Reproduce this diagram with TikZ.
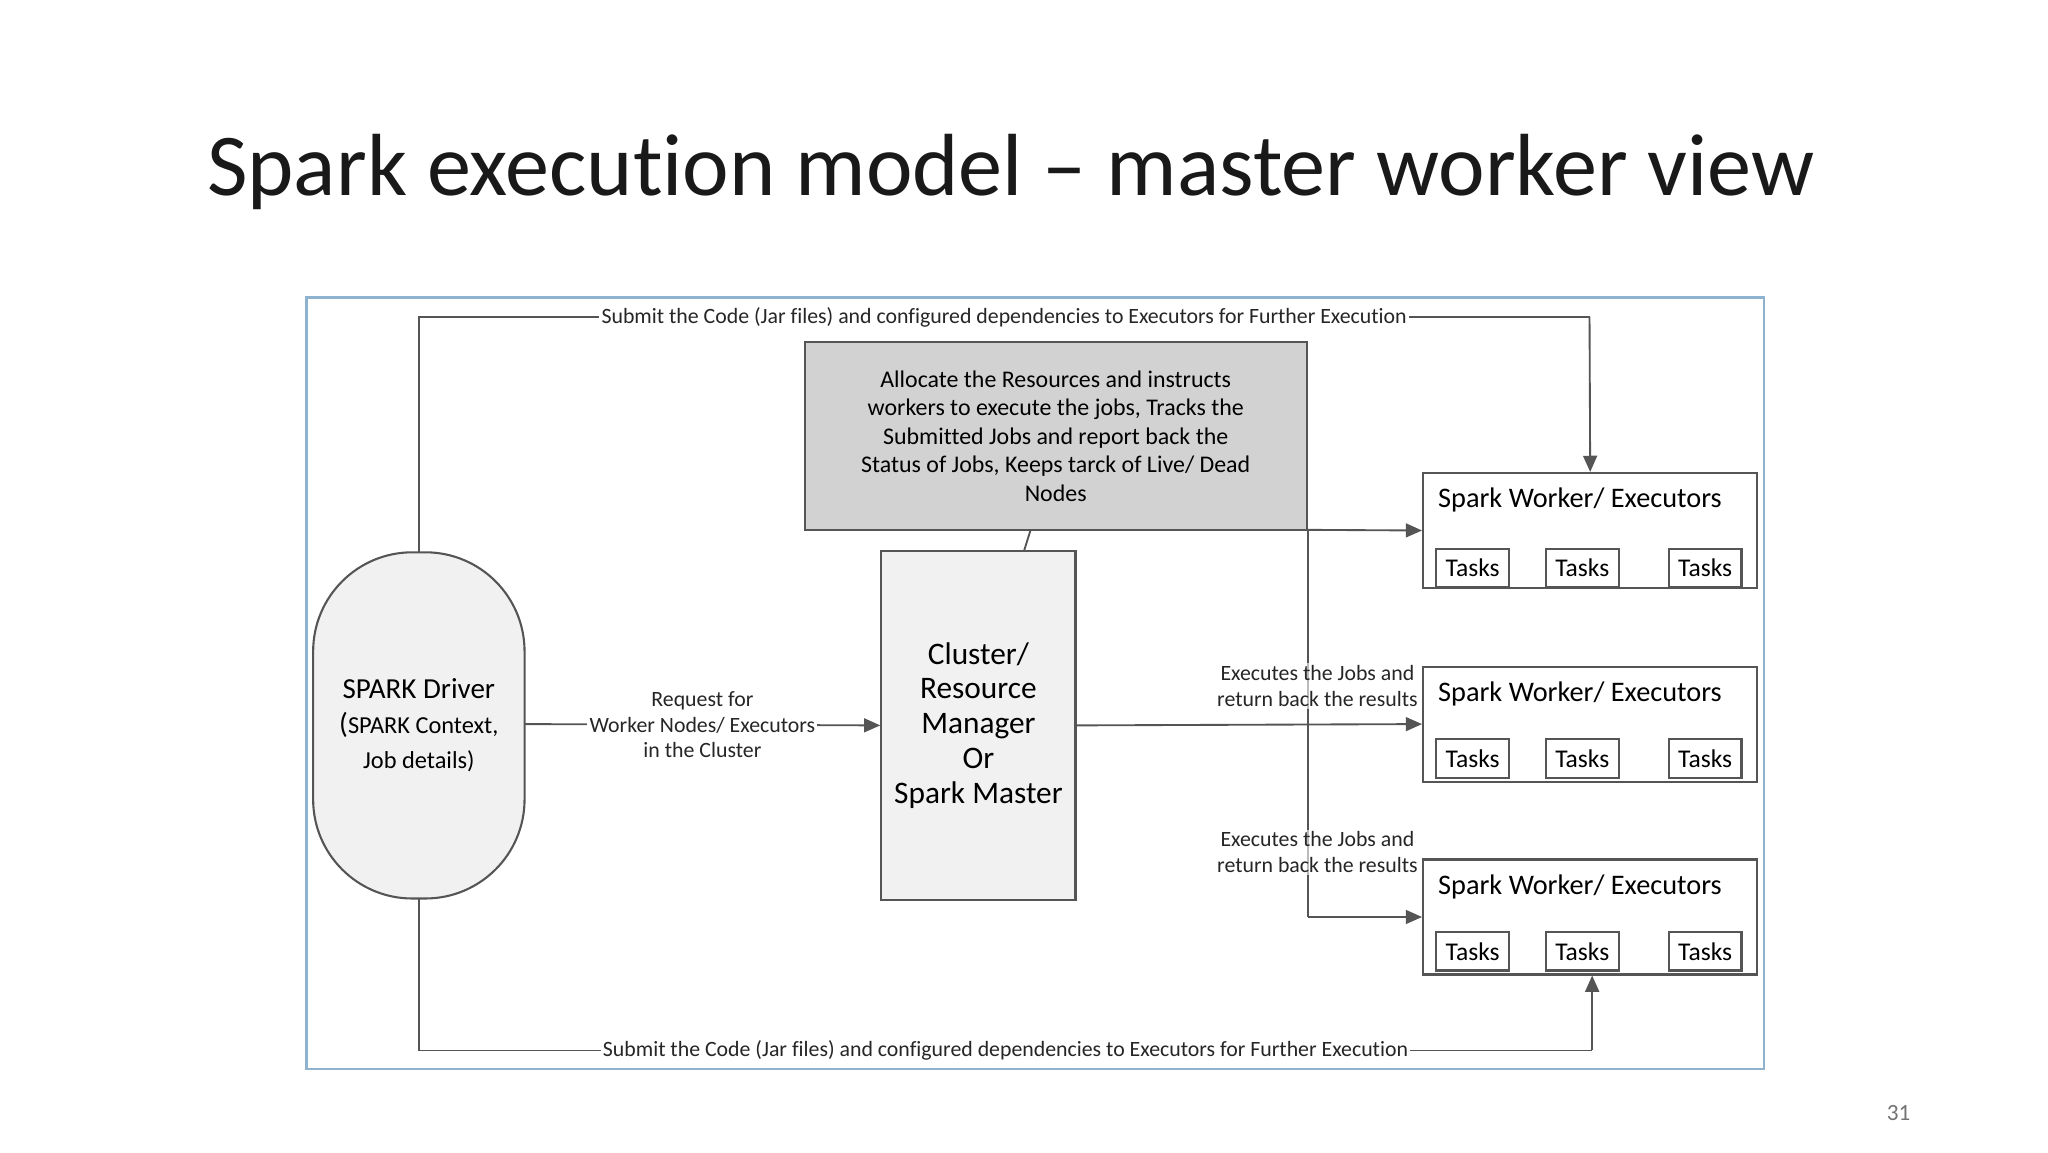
\documentclass[tikz,border=0pt]{standalone}
\usepackage{fontspec}
\setmainfont{Carlito}[Ligatures={NoCommon}]
\usetikzlibrary{arrows.meta}
\definecolor{frameblue}{HTML}{8FB3CF}
\definecolor{boxgray}{HTML}{D2D2D2}
\definecolor{lightbox}{HTML}{F1F1F1}
\definecolor{edgegray}{HTML}{555555}
\tikzset{
  box/.style={draw=edgegray, line width=0.9pt},
  lbl/.style={fill=white, inner sep=1pt, font=\fontsize{9.4}{11}\selectfont, text=black!85},
  conn/.style={draw=edgegray, line width=0.8pt},
  arr/.style={conn, -{Triangle[length=7pt,width=6pt]}},
  taskbox/.style={box, fill=white, minimum width=1.1cm, minimum height=0.58cm, inner sep=0pt, font=\fontsize{11}{12}\selectfont},
  worker/.style={box, fill=white, minimum width=5.06cm, minimum height=1.74cm},
}
\begin{document}
\begin{tikzpicture}[x=0.02cm,y=-0.02cm]
\useasboundingbox (0,0) rectangle (1550,872);
\node[font=\fontsize{38}{44}\selectfont, anchor=center, text=black!90] (title) at (765,130) {Spark execution model – master worker view};
\node[font=\fontsize{10}{12}\selectfont, text=black!55] (page) at (1437,842) {31};
\draw[frameblue, line width=1.2pt] (232,225) rectangle (1335,809);
% driver
\draw[box, fill=lightbox, rounded corners=1.5cm] (237,418) rectangle (397,680);
\node[align=center, font=\fontsize{12.5}{15}\selectfont] (driver) at (317,549) {SPARK Driver\\(\fontsize{10.5}{15}\selectfont SPARK Context,\\\fontsize{10.5}{15}\selectfont Job details)};
\coordinate (dtop) at (317,418);
\coordinate (dbot) at (317,680);
\coordinate (dright) at (397,548);
% gray box
\node[box, fill=boxgray, minimum width=7.6cm, minimum height=2.84cm, align=center, font=\fontsize{10.3}{12.3}\selectfont] (alloc) at (799,330) {Allocate the Resources and instructs\\workers to execute the jobs, Tracks the\\Submitted Jobs and report back the\\Status of Jobs, Keeps tarck of Live/ Dead\\Nodes};
% cluster
\node[box, fill=lightbox, minimum width=2.94cm, minimum height=5.28cm, align=center, font=\fontsize{13.5}{15}\selectfont] (cm) at (740.5,549) {Cluster/\\Resource\\Manager\\Or\\Spark Master};
\draw[conn] (780,401) -- (775,417);
% workers
\foreach \i/\y in {1/401.5,2/548,3/694}{
  \node[worker] (w\i) at (1203.5,\y) {};
  \node[anchor=north west, font=\fontsize{12.2}{14}\selectfont] (wt\i) at ([xshift=0.12cm,yshift=-0.12cm]w\i.north west) {Spark Worker/ Executors};
}
\foreach \i/\y in {1/430,2/574,3/720}{
  \node[taskbox] (t\i a) at (1114.5,\y) {Tasks};
  \node[taskbox] (t\i b) at (1197.5,\y) {Tasks};
  \node[taskbox] (t\i c) at (1290.5,\y) {Tasks};
}
% top / bottom connectors
\coordinate (tl) at (317,240); \coordinate (tr) at (1203,240);
\coordinate (bl) at (317,795); \coordinate (br) at (1205,795);
\draw[conn] (dtop) -- (tl) -- node[lbl] (toplbl) {Submit the Code (Jar files) and configured dependencies to Executors for Further Execution} (tr);
\draw[arr] (tr) -- (w1.north);
\draw[conn] (dbot) -- (bl) -- node[lbl] (botlbl) {Submit the Code (Jar files) and configured dependencies to Executors for Further Execution} (br);
\draw[arr] (br) -- (br |- w3.south);
% driver to cluster
\draw[arr] (dright) -- node[lbl, align=center, pos=0.5] (req) {Request for\\Worker Nodes/ Executors\\in the Cluster} (cm.west);
% cluster to workers
\draw[arr] (cm.east) -- (w2.west);
\coordinate (vt) at (990,401); \coordinate (vb) at (990,694);
\draw[conn] (vt) -- (vb);
\draw[arr] (vt) -- (w1.west);
\draw[arr] (vb) -- (w3.west);
\node[lbl, align=center, fill=white, fill opacity=0.6, text opacity=1, anchor=east] (ex1) at (1075,519) {Executes the Jobs and\\return back the results};
\node[lbl, align=center, fill=white, fill opacity=0.6, text opacity=1, anchor=east] (ex2) at (1075,645) {Executes the Jobs and\\return back the results};
\end{tikzpicture}
\end{document}
